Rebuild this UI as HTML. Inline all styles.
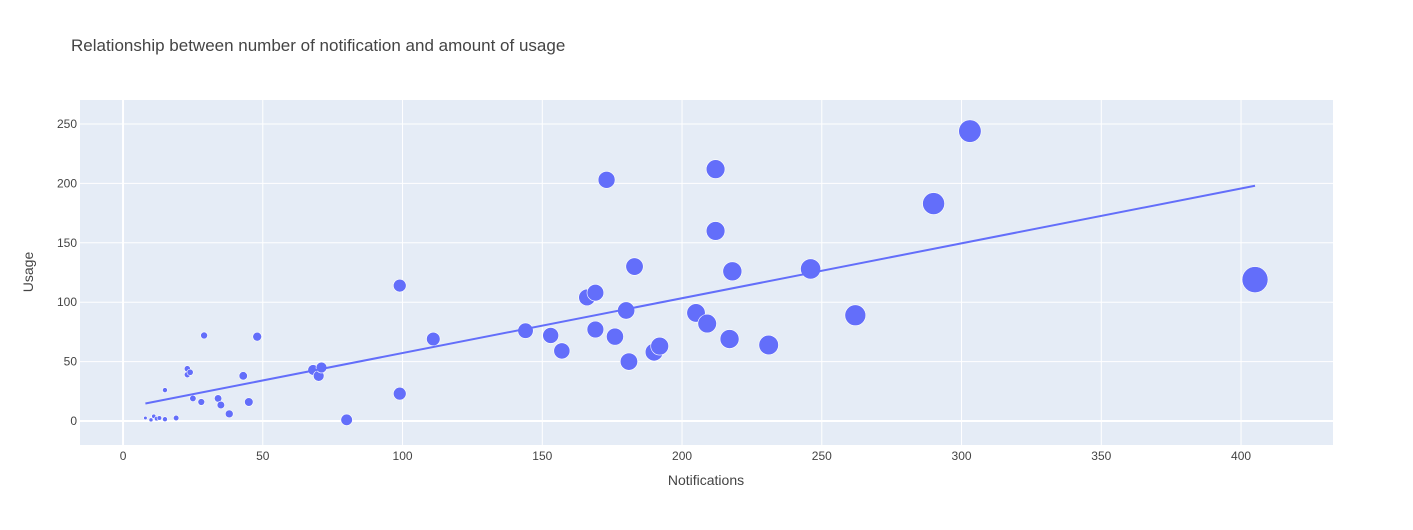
<!DOCTYPE html>
<html><head><meta charset="utf-8"><style>
body{margin:0;background:#fff;font-family:"Liberation Sans",Arial,sans-serif}
svg text{font-family:"Liberation Sans",Arial,sans-serif}
</style></head><body>
<svg id="c" width="1413" height="525">
<text x="71" y="51" font-size="17" fill="#444">Relationship between number of notification and amount of usage</text>
<rect x="80" y="100" width="1253" height="345" fill="#e5ecf6"/>
<g id="grid"></g><g id="marks"></g>
<text x="706" y="485" font-size="14" fill="#444" text-anchor="middle">Notifications</text>
<text transform="translate(33,272) rotate(-90)" font-size="14" fill="#444" text-anchor="middle">Usage</text>
</svg>
<script>
const notifications=[8,10,11,12,13,15,19,15,23,23,24,25,28,29,34,35,38,43,45,48,68,70,71,80,99,99,111,144,153,157,166,169,169,173,176,180,181,183,190,192,205,209,212,212,217,218,231,246,262,290,303,405];
const usage=[2.5,1,4,2,2.5,1.5,2.5,26,39,44,41,19,16,72,19,13.5,6,38,16,71,43,38,45,1,114,23,69,76,72,59,104,108,77,203,71,93,50,130,58,63,91,82,212,160,69,126,64,128,89,183,244,119];
const xTicks=[0,50,100,150,200,250,300,350,400];
const yTicks=[0,50,100,150,200,250];
const X0=80,X1=1333,Y0=445,Y1=100,xmin=-15.4,xmax=432.9,ymin=-20.2,ymax=270.2;
const sx=v=>X0+(v-xmin)/(xmax-xmin)*(X1-X0);
const sy=v=>Y0-(v-ymin)/(ymax-ymin)*(Y0-Y1);
const NS='http://www.w3.org/2000/svg';
const grid=document.getElementById('grid'),marks=document.getElementById('marks');
function mk(tag,at,par){const e=document.createElementNS(NS,tag);for(const k in at)e.setAttribute(k,at[k]);par.appendChild(e);return e;}
xTicks.forEach(t=>{
 const l=mk('line',{x1:sx(t),x2:sx(t),y1:Y1,y2:Y0,stroke:'#fff','stroke-width':t===0?2:1},grid);
 
 
 const tx=mk('text',{x:sx(t),y:Y0+15,'font-size':12,fill:'#444','text-anchor':'middle'},grid);tx.textContent=t;
 
 
});
yTicks.forEach(t=>{
 const l=mk('line',{x1:X0,x2:X1,y1:sy(t),y2:sy(t),stroke:'#fff','stroke-width':t===0?2:1},grid);
 
 
 const tx=mk('text',{x:X0-3,y:sy(t)+4,'font-size':12,fill:'#444','text-anchor':'end'},grid);tx.textContent=t;
 
 
});
const maxN=Math.max(...notifications);
notifications.forEach((n,i)=>{
 const r=Math.max(1.8,13*Math.sqrt(n/maxN));
 const c=mk('circle',{cx:sx(n),cy:sy(usage[i]),r:r,fill:'#636efa',stroke:'#fff','stroke-width':0.6},marks);
 
 
});
const N=notifications.length;let mx=0,my=0;for(let i=0;i<N;i++){mx+=notifications[i];my+=usage[i];}mx/=N;my/=N;
let sxy=0,sxx=0;for(let i=0;i<N;i++){sxy+=(notifications[i]-mx)*(usage[i]-my);sxx+=(notifications[i]-mx)**2;}
const b=sxy/sxx,a=my-b*mx;const lo=Math.min(...notifications),hi=maxN;
const tl=mk('line',{x1:sx(lo),y1:sy(a+b*lo),x2:sx(hi),y2:sy(a+b*hi),stroke:'#636efa','stroke-width':2},marks);


</script>
</body></html>
